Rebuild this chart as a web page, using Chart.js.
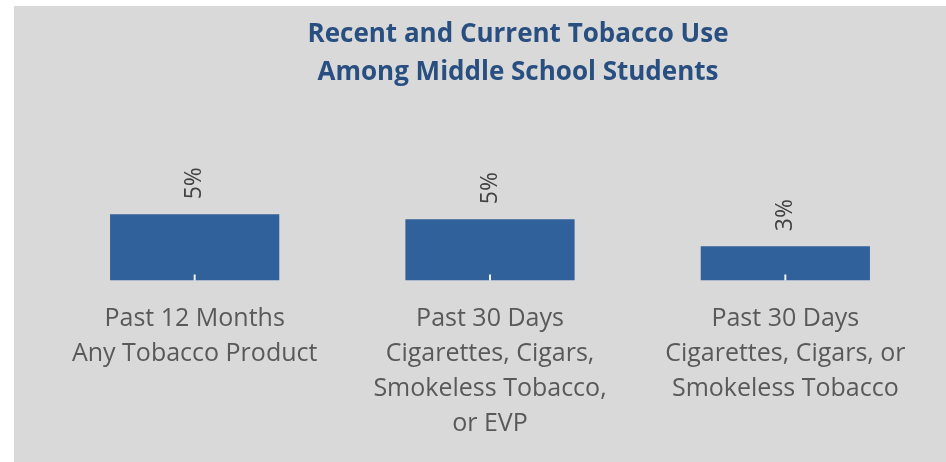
<!DOCTYPE html>
<html>
<head>
<meta charset="utf-8">
<script src="https://cdn.jsdelivr.net/npm/chart.js@4"></script>
<style>
  html, body { margin: 0; padding: 0; background: #fff; }
  #wrap { position: relative; width: 946px; height: 462px; }
  #panel { position: absolute; left: 14px; top: 6px; width: 932px; height: 456px; background: #d9d9d9; }
  #c { position: absolute; left: 0; top: 0; }
</style>
</head>
<body>
<div id="wrap">
  <div id="panel"></div>
  <canvas id="c" width="946" height="462"></canvas>
</div>
<script>
// data
const categories = [
  ["Past 12 Months", "Any Tobacco Product"],
  ["Past 30 Days", "Cigarettes, Cigars,", "Smokeless Tobacco,", "or EVP"],
  ["Past 30 Days", "Cigarettes, Cigars, or", "Smokeless Tobacco"]
];
const usePct = [5.4, 5.0, 2.8];
const titleLines = ["Recent and Current Tobacco Use", "Among Middle School Students"];

// titel oben, etwas rechts von der Mitte
const titlePlugin = {
  id: "titleText",
  afterDraw(chart) {
    const ctx = chart.ctx;
    ctx.save();
    ctx.fillStyle = "#284f80";
    ctx.font = "bold 26px 'Open Sans'";
    ctx.textAlign = "center";
    ctx.textBaseline = "middle";
    titleLines.forEach((t, i) => ctx.fillText(t, 518, 35 + i * 38));
    ctx.restore();
  }
};

// kleine weisse Ticks in den Balken + gedrehte Werte
const barExtras = {
  id: "barExtras",
  afterDatasetsDraw(chart) {
    const ctx = chart.ctx;
    const xs = chart.scales.x;
    const bottom = chart.chartArea.bottom;
    ctx.save();
    ctx.strokeStyle = "#f2f2f2";
    ctx.lineWidth = 2;
    xs.ticks.forEach((t, i) => {
      const x = xs.getPixelForTick(i);
      ctx.beginPath();
      ctx.moveTo(x, bottom);
      ctx.lineTo(x, bottom - 6);
      ctx.stroke();
    });
    const meta = chart.getDatasetMeta(0);
    ctx.fillStyle = "#404040";
    ctx.font = "23px 'Open Sans'";
    ctx.textAlign = "left";
    ctx.textBaseline = "middle";
    meta.data.forEach((bar, i) => {
      ctx.save();
      ctx.translate(bar.x, bar.y - 15);
      ctx.rotate(-Math.PI / 2);
      ctx.fillText(Math.round(usePct[i]) + "%", 0, 0);
      ctx.restore();
    });
    ctx.restore();
  }
};

new Chart(document.getElementById("c"), {
  type: "bar",
  data: {
    labels: categories,
    datasets: [{
      data: usePct,
      backgroundColor: "#31619a",
      borderWidth: 0,
      barPercentage: 0.573,
      categoryPercentage: 1.0
    }]
  },
  options: {
    responsive: false,
    animation: false,
    layout: { padding: { left: 47, right: 13, top: 109, bottom: 10 } },
    plugins: {
      legend: { display: false },
      tooltip: { enabled: false }
    },
    scales: {
      x: {
        grid: { display: false },
        border: { display: false },
        ticks: {
          color: "#595959",
          font: { family: "'Open Sans'", size: 25, lineHeight: 1.4 },
          padding: 13,
          maxRotation: 0,
          autoSkip: false
        }
      },
      y: {
        display: false,
        min: 0,
        max: 14
      }
    }
  },
  plugins: [titlePlugin, barExtras]
});
</script>
</body>
</html>
